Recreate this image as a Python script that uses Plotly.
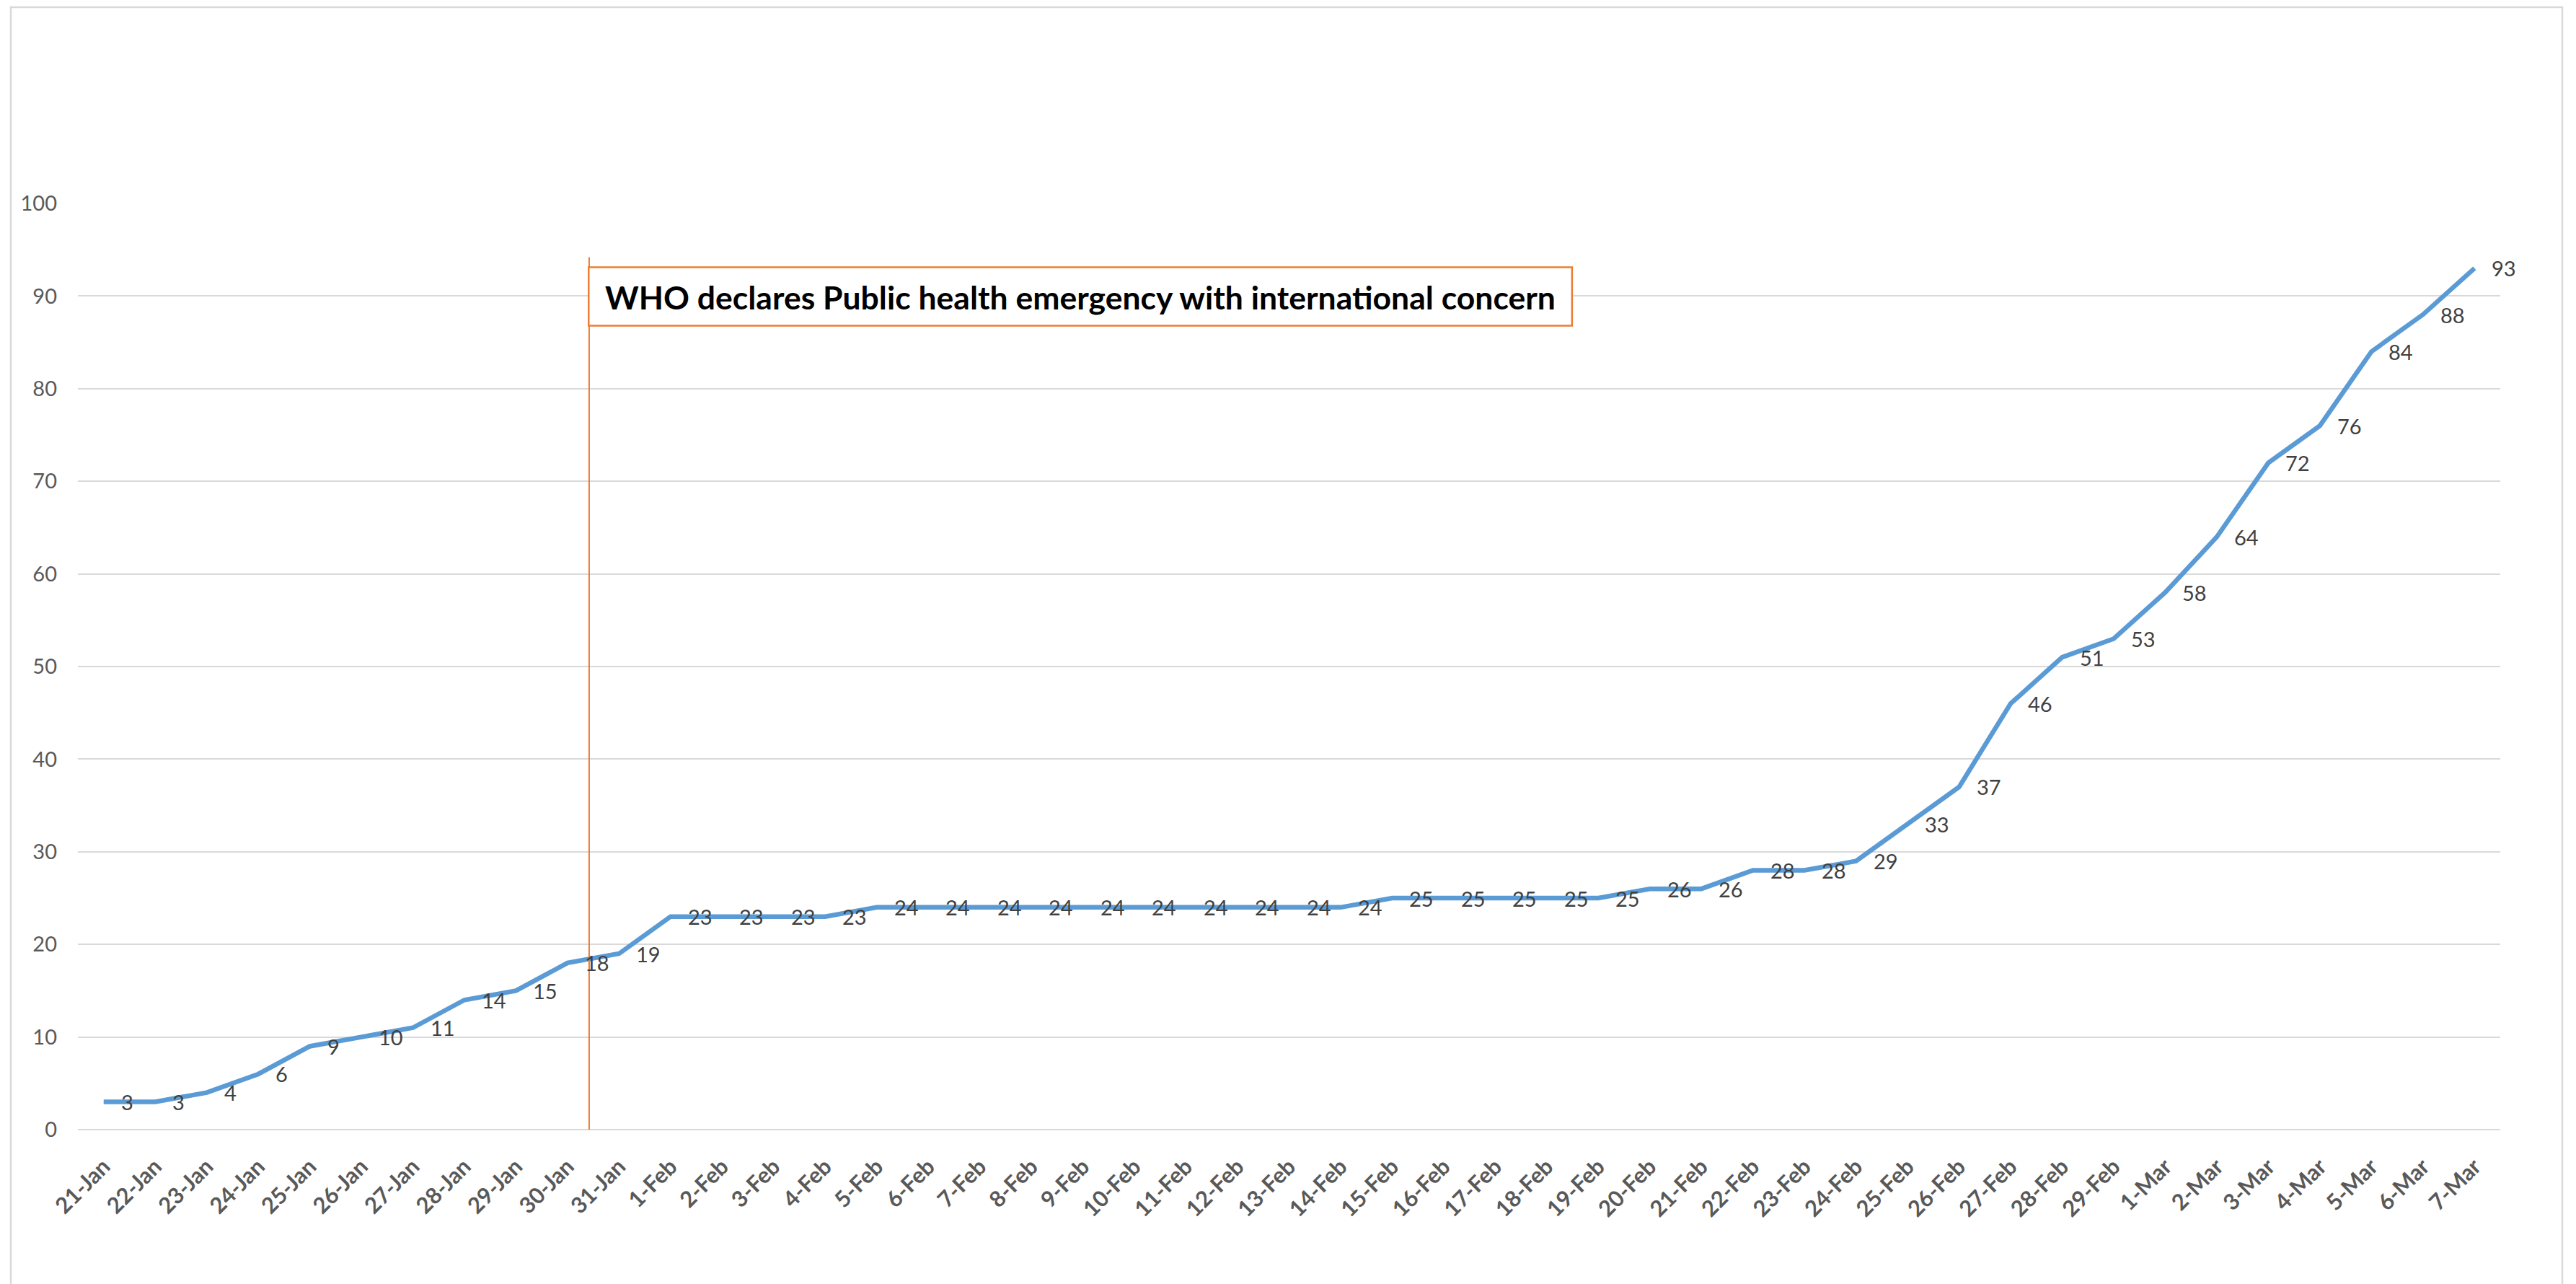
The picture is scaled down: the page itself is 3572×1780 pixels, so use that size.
import plotly.graph_objects as go

dates = ["21-Jan", "22-Jan", "23-Jan", "24-Jan", "25-Jan", "26-Jan", "27-Jan", "28-Jan", "29-Jan", "30-Jan", "31-Jan",
         "1-Feb", "2-Feb", "3-Feb", "4-Feb", "5-Feb", "6-Feb", "7-Feb", "8-Feb", "9-Feb", "10-Feb", "11-Feb", "12-Feb",
         "13-Feb", "14-Feb", "15-Feb", "16-Feb", "17-Feb", "18-Feb", "19-Feb", "20-Feb", "21-Feb", "22-Feb", "23-Feb",
         "24-Feb", "25-Feb", "26-Feb", "27-Feb", "28-Feb", "29-Feb",
         "1-Mar", "2-Mar", "3-Mar", "4-Mar", "5-Mar", "6-Mar", "7-Mar"]
cases = [3, 3, 4, 6, 9, 10, 11, 14, 15, 18, 19,
         23, 23, 23, 23, 24, 24, 24, 24, 24, 24, 24, 24,
         24, 24, 25, 25, 25, 25, 25, 26, 26, 28, 28,
         29, 33, 37, 46, 51, 53,
         58, 64, 72, 76, 84, 88, 93]
y_ticks = [0, 10, 20, 30, 40, 50, 60, 70, 80, 90, 100]

event_text = "WHO declares Public health emergency with international concern"
event_x = 9.42          # position between 30-Jan and 31-Jan (category index)
event_line_top = 94.2
box_x0, box_x1 = 9.41, 28.49
box_y0, box_y1 = 86.8, 93.1

W, H = 3572, 1780
ML, MR, MT, MB = 108, 105, 282, 214

fig = go.Figure()
fig.add_trace(go.Scatter(
    x=dates, y=cases, mode="lines",
    line=dict(color="#5B9BD5", width=6.5),
    hoverinfo="skip", showlegend=False,
))

for d, v in zip(dates, cases):
    fig.add_annotation(
        x=d, y=v, text=str(v), showarrow=False,
        xanchor="left", yanchor="middle", xshift=22,
        font=dict(family="Lato", size=29, color="#404040"),
    )

# event line and box
fig.add_shape(type="line", x0=event_x, x1=event_x, y0=0, y1=event_line_top,
              xref="x", yref="y", line=dict(color="#ED7D31", width=2))
fig.add_shape(type="rect", x0=box_x0, x1=box_x1, y0=box_y0, y1=box_y1,
              xref="x", yref="y", line=dict(color="#ED7D31", width=2.5),
              fillcolor="white")
fig.add_annotation(
    x=(box_x0 + box_x1) / 2, y=(box_y0 + box_y1) / 2, text="<b>" + event_text + "</b>",
    showarrow=False, xanchor="center", yanchor="middle",
    font=dict(family="Lato", size=44.5, color="#000000"),
)

# chart-area border
pw = W - ML - MR
ph = H - MT - MB
fig.add_shape(type="rect", xref="paper", yref="paper",
              x0=(15 - ML) / pw, x1=(3553 - ML) / pw,
              y0=(H - MB - 1850) / ph, y1=(H - MB - 10) / ph,
              line=dict(color="#D9D9D9", width=2.5), fillcolor="rgba(0,0,0,0)", layer="below")

fig.update_layout(
    width=W, height=H,
    margin=dict(l=ML, r=MR, t=MT, b=MB, pad=0),
    paper_bgcolor="white", plot_bgcolor="white",
    showlegend=False,
    xaxis=dict(
        type="category", range=[-0.5, len(dates) - 0.5],
        tickangle=-45, showgrid=False, zeroline=False, showline=False, ticks="",
        tickfont=dict(family="Lato", size=31, color="#595959", weight="bold"),
        ticklabelstandoff=26,
    ),
    yaxis=dict(
        range=[0, 100], tickvals=y_ticks, ticktext=[str(t) for t in y_ticks],
        showgrid=True, gridcolor="#D9D9D9", gridwidth=2,
        zeroline=True, zerolinecolor="#D9D9D9", zerolinewidth=2,
        showline=False, ticks="",
        tickfont=dict(family="Lato", size=29, color="#595959"),
        ticklabelstandoff=28,
    ),
)

fig.write_html("out.html")
